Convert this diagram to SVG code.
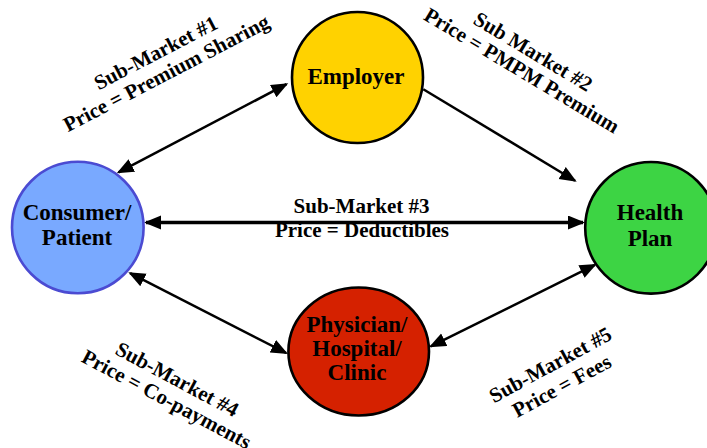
<svg xmlns="http://www.w3.org/2000/svg" width="707" height="448" viewBox="0 0 707 448">
<style>
.node{stroke-width:2.6}
.nt{font-family:"Liberation Serif","Times New Roman",serif;font-weight:bold;font-size:23px;text-anchor:middle;fill:#000}
.lb{font-family:"Liberation Serif","Times New Roman",serif;font-weight:bold;font-size:21px;text-anchor:middle;fill:#000}
.ln{stroke:#000;stroke-width:2.5;fill:none}
</style>
<defs>
<marker id="ah" markerUnits="userSpaceOnUse" markerWidth="18" markerHeight="15" refX="15" refY="7" orient="auto-start-reverse" viewBox="0 0 18 15">
<path d="M0,0 L17,7 L0,14 z" fill="#000"/>
</marker>
</defs>
<rect width="707" height="448" fill="#fff"/>
<g id="connectors">
<line class="ln" x1="118.5" y1="172.4" x2="286.5" y2="84.2" marker-start="url(#ah)" marker-end="url(#ah)"/>
<line class="ln" x1="423.3" y1="89.3" x2="575" y2="180.7" marker-end="url(#ah)"/>
<line class="ln" x1="146" y1="222.5" x2="583" y2="222.5" style="stroke-width:3.3" marker-start="url(#ah)" marker-end="url(#ah)"/>
<line class="ln" x1="130.1" y1="273.2" x2="286.2" y2="353" marker-start="url(#ah)" marker-end="url(#ah)"/>
<line class="ln" x1="430.8" y1="346.4" x2="594.9" y2="264.9" marker-start="url(#ah)" marker-end="url(#ah)"/>
</g>
<g id="employer">
<circle class="node" cx="357.5" cy="77.5" r="65.5" fill="#FFD200" stroke="#000"/>
<text class="nt" x="356" y="84">Employer</text>
</g>
<g id="consumer">
<circle class="node" cx="77.8" cy="227.5" r="65.8" fill="#79A9FF" stroke="#4B4BD2"/>
<text class="nt" x="77" y="220">Consumer/</text>
<text class="nt" x="77" y="245">Patient</text>
</g>
<g id="healthplan">
<circle class="node" cx="651" cy="227.8" r="65.8" fill="#3DD444" stroke="#000"/>
<text class="nt" x="650" y="220">Health</text>
<text class="nt" x="650" y="245.5">Plan</text>
</g>
<g id="physician">
<ellipse class="node" cx="358.7" cy="351.5" rx="70.3" ry="64" fill="#D52100" stroke="#000"/>
<text class="nt" x="357" y="331.5">Physician/</text>
<text class="nt" x="357" y="355.5">Hospital/</text>
<text class="nt" x="357" y="380">Clinic</text>
</g>
<g id="labels">
<g transform="translate(161,63) rotate(-27.5)">
<text class="lb" x="0" y="-4.5">Sub-Market #1</text>
<text class="lb" x="0" y="18.5">Price = Premium Sharing</text>
</g>
<g transform="translate(527.5,61) rotate(31)">
<text class="lb" x="0" y="-4">Sub Market #2</text>
<text class="lb" x="0" y="18">Price = PMPM Premium</text>
</g>
<g>
<text class="lb" x="361.5" y="213.3">Sub-Market #3</text>
<text class="lb" x="362" y="236.7">Price = Deductibles</text>
</g>
<g transform="translate(172,389) rotate(28)">
<text class="lb" x="0" y="-4">Sub-Market #4</text>
<text class="lb" x="0" y="18.5">Price = Co-payments</text>
</g>
<g transform="translate(556,375.4) rotate(-28.5)">
<text class="lb" x="0" y="-5">Sub-Market #5</text>
<text class="lb" x="0" y="19">Price = Fees</text>
</g>
</g>
</svg>
